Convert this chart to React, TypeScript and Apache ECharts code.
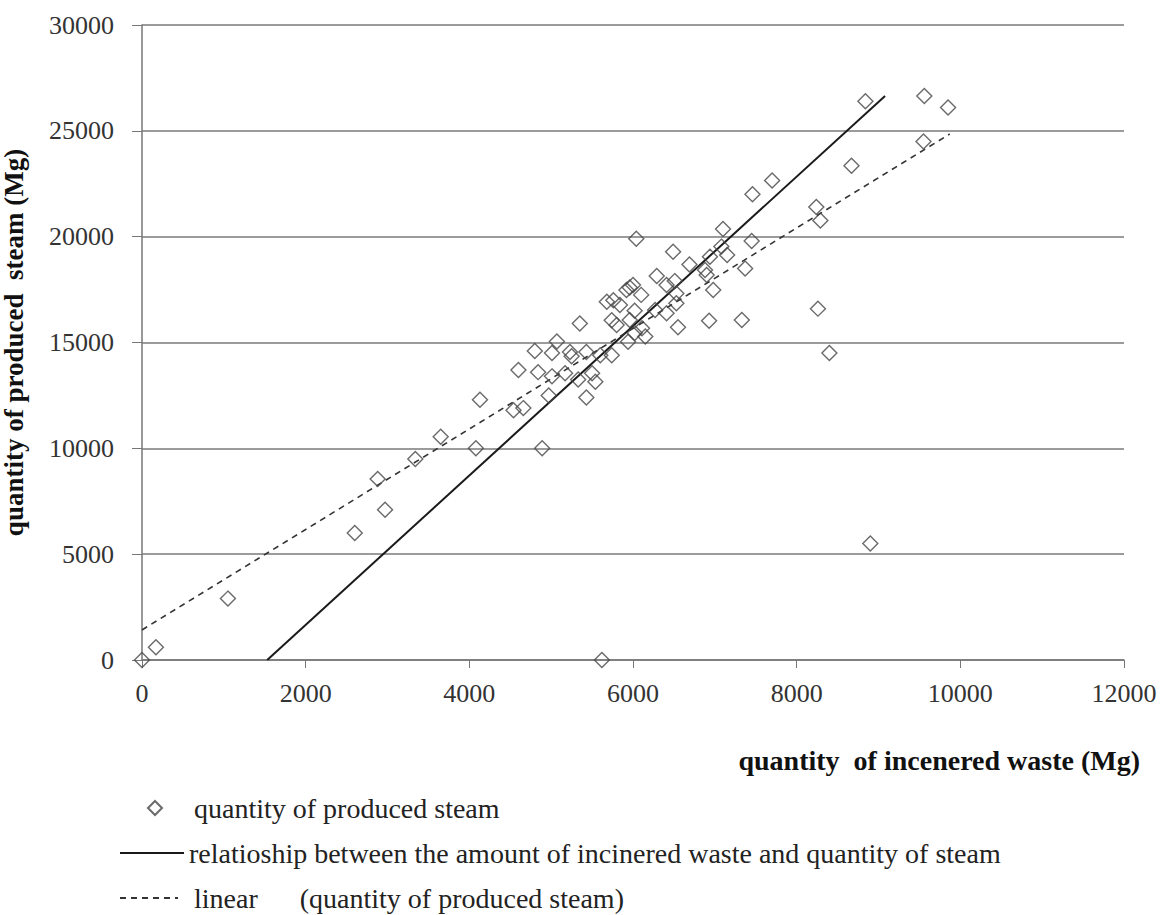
import { useEffect, useRef } from "react";
import * as echarts from "echarts";

// Monthly pairs: [incinerated waste (Mg), produced steam (Mg)]
const steamPoints: [number, number][] = [
  [0, 0], [170, 600], [1050, 2900], [2600, 6000], [2880, 8550], [2970, 7100],
  [3340, 9500], [3650, 10550], [4080, 10000], [4130, 12300], [4890, 10000],
  [5620, 0], [8900, 5500],
  [4540, 11800], [4660, 11900], [4970, 12500], [5430, 12400],
  [4600, 13700], [4840, 13600], [5010, 13400], [5170, 13550], [5330, 13250],
  [5500, 13550], [5540, 13150],
  [4800, 14600], [5010, 14500], [5230, 14550], [5250, 14350], [5430, 14550],
  [5600, 14400], [5740, 14400],
  [5070, 15050], [5350, 15900], [5740, 16050], [5800, 15830], [5960, 16060],
  [6110, 15670], [6150, 15280], [5940, 15040], [6550, 15720], [6020, 15450],
  [5680, 16930], [5760, 17000], [5920, 17480], [6000, 17720], [5960, 17600],
  [6100, 17250], [6530, 17320], [5840, 16770], [6270, 16540], [6530, 16850],
  [6410, 16380], [6020, 16500],
  [6290, 18140], [6510, 17900], [6410, 17720], [6690, 18690], [6880, 18420],
  [6900, 18190], [6940, 19050], [6980, 17480], [7370, 18500], [7150, 19130],
  [7080, 19530], [6490, 19290], [7100, 20360], [7450, 19800], [6040, 19900],
  [6930, 16030], [7330, 16060], [8260, 16600], [8400, 14500],
  [7460, 22000], [7700, 22650], [8240, 21400], [8290, 20760], [8670, 23350],
  [8840, 26400], [9560, 26650], [9850, 26100], [9550, 24500],
];

// End points of the waste/steam relationship line
const relationLine: [number, number][] = [[1530, 0], [9080, 26650]];

// End points of the linear trend of produced steam
const linearTrend: [number, number][] = [[0, 1420], [9870, 24850]];

const seriesNames = [
  "quantity of produced steam",
  "relatioship between the amount of incinered waste and quantity of steam",
  "linear      (quantity of produced steam)",
];

const xTitle = "quantity  of incenered waste (Mg)";
const yTitle = "quantity of produced  steam (Mg)";

const serif = "'Liberation Serif', 'Times New Roman', serif";

export default function App() {
  const ref = useRef<HTMLDivElement>(null);

  useEffect(() => {
    if (!ref.current) return;
    const chart = echarts.init(ref.current, undefined, { renderer: "svg" });

    const legendText = { fontFamily: serif, fontSize: 28, color: "#222" };
    const plain = (v: number) => String(v);
    const noFill = "rgba(0,0,0,0)";

    chart.setOption({
      animation: false,
      backgroundColor: "#ffffff",
      grid: {
        left: 142,
        right: 40,
        top: 25,
        bottom: 255,
        containLabel: false,
        outerBoundsMode: "none",
      },
      xAxis: {
        type: "value",
        min: 0,
        max: 12000,
        interval: 2000,
        name: xTitle,
        nameLocation: "end",
        nameGap: 16,
        nameTextStyle: {
          fontFamily: serif,
          fontSize: 28,
          fontWeight: "bold",
          color: "#111",
          align: "right",
          verticalAlign: "top",
          padding: [86, 0, 0, 0],
        },
        axisLine: { show: true, lineStyle: { color: "#777", width: 1.5 } },
        axisTick: { show: true, inside: false, length: 8, lineStyle: { color: "#777" } },
        axisLabel: { fontFamily: serif, fontSize: 26, color: "#333", margin: 20, formatter: plain },
        splitLine: { show: false },
      },
      yAxis: {
        type: "value",
        min: 0,
        max: 30000,
        interval: 5000,
        name: yTitle,
        nameLocation: "middle",
        nameGap: 115,
        nameRotate: 90,
        nameTextStyle: {
          fontFamily: serif,
          fontSize: 27,
          fontWeight: "bold",
          color: "#111",
        },
        axisLine: { show: true, lineStyle: { color: "#777", width: 1.5 } },
        axisTick: { show: true, inside: false, length: 10, lineStyle: { color: "#777" } },
        axisLabel: { fontFamily: serif, fontSize: 26, color: "#333", margin: 28, formatter: plain },
        splitLine: { show: true, lineStyle: { color: "#7a7a7a", width: 1.5 } },
      },
      legend: [
        {
          data: [seriesNames[0]],
          left: 142,
          top: 789,
          itemWidth: 14,
          itemHeight: 14,
          textStyle: { ...legendText, padding: [0, 0, 0, 27] },
        },
        {
          data: [seriesNames[1]],
          left: 114,
          top: 834,
          itemWidth: 64,
          itemHeight: 14,
          textStyle: legendText,
        },
        {
          data: [seriesNames[2]],
          left: 114,
          top: 879,
          itemWidth: 58,
          itemHeight: 14,
          textStyle: { ...legendText, padding: [0, 0, 0, 11] },
        },
      ],
      series: [
        {
          name: seriesNames[0],
          type: "scatter",
          symbol: "diamond",
          symbolSize: 15,
          data: steamPoints,
          itemStyle: {
            color: noFill,
            borderColor: "#454545",
            borderWidth: 1.4,
          },
          z: 3,
        },
        {
          name: seriesNames[1],
          type: "line",
          data: relationLine,
          symbol: "none",
          showSymbol: false,
          itemStyle: { color: noFill, borderWidth: 0 },
          lineStyle: { color: "#1a1a1a", width: 2, type: "solid" },
          z: 2,
        },
        {
          name: seriesNames[2],
          type: "line",
          data: linearTrend,
          symbol: "none",
          showSymbol: false,
          itemStyle: { color: noFill, borderWidth: 0 },
          lineStyle: { color: "#333", width: 1.6, type: [6, 5] },
          z: 2,
        },
      ],
    });

    return () => chart.dispose();
  }, []);

  return (
    <div
      ref={ref}
      style={{ position: "fixed", left: 0, top: 0, width: 1164, height: 915, background: "#fff" }}
    />
  );
}
